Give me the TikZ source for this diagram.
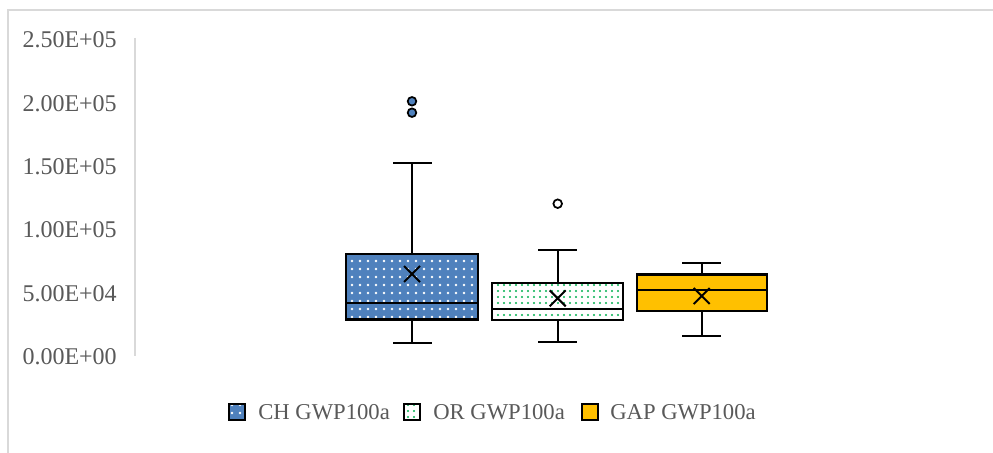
\documentclass[tikz,border=0pt]{standalone}
\usepackage{fontspec}
\setmainfont{Liberation Serif}
\usetikzlibrary{patterns.meta}

\definecolor{chblue}{RGB}{79,129,189}
\definecolor{gapgold}{RGB}{255,192,0}
\definecolor{orgreen}{RGB}{0,176,80}
\definecolor{framegray}{RGB}{217,217,217}
\definecolor{labgray}{RGB}{89,89,89}

\begin{document}
\begin{tikzpicture}[x=0.75pt, y=-0.75pt,
        boxline/.style={draw=black, line width=1.8pt},
        whisk/.style={draw=black, line width=1.4pt},
        meanx/.style={draw=black, line width=1.5pt},
        chfill/.style={preaction={fill=chblue}, pattern={Dots[distance=6pt, radius=0.95pt]}, pattern color=white},
        orfill/.style={preaction={fill=white}, pattern={Dots[distance=4.5pt, radius=0.85pt]}, pattern color=orgreen},
        gapfill/.style={fill=gapgold},
        ticklab/.style={anchor=east, text=labgray, font=\fontsize{18}{21}\selectfont, inner sep=0pt},
        leglab/.style={anchor=west, text=labgray, font=\fontsize{17}{20}\selectfont, inner sep=0pt}]
        \useasboundingbox (0,0) rectangle (993,453);
        \fill[white] (0,0) rectangle (993,453);
        \draw[framegray, line width=0.9pt] (8,453) -- (8,10) -- (993,10);

        % axis
        \draw[framegray, line width=1pt] (135,38) -- (135,356);
        \node[ticklab] (t0) at (117,356.7) {0.00E+00};
        \node[ticklab] (t1) at (117,293.3) {5.00E+04};
        \node[ticklab] (t2) at (117,230) {1.00E+05};
        \node[ticklab] (t3) at (117,166.7) {1.50E+05};
        \node[ticklab] (t4) at (117,103.3) {2.00E+05};
        \node[ticklab] (t5) at (117,40) {2.50E+05};

        % CH GWP100a
        \draw[whisk] (412,253.7) -- (412,163.3);
        \draw[whisk] (393,163.3) -- (432,163.3);
        \draw[whisk] (412,319.3) -- (412,343);
        \draw[whisk] (393,343) -- (432,343);
        \path[chfill] (346,253.7) rectangle (478,319.3);
        \draw[boxline] (346,253.7) rectangle (478,319.3);
        \draw[boxline] (346,303) -- (478,303);
        \draw[meanx] (412,274) +(-8,-8) -- +(8,8) +(-8,8) -- +(8,-8);
        \filldraw[fill=chblue, draw=black, line width=1.3pt] (412,101.3) circle (4.3);
        \filldraw[fill=chblue, draw=black, line width=1.3pt] (412,112.7) circle (4.3);

        % OR GWP100a
        \draw[whisk] (557.7,283) -- (557.7,249.7);
        \draw[whisk] (538,249.7) -- (577,249.7);
        \draw[whisk] (557.7,319.7) -- (557.7,342.3);
        \draw[whisk] (538,342.3) -- (577,342.3);
        \path[orfill] (492,283) rectangle (623,319.7);
        \draw[boxline] (492,283) rectangle (623,319.7);
        \draw[boxline] (492,308.7) -- (623,308.7);
        \draw[meanx] (557.7,298.3) +(-8,-8) -- +(8,8) +(-8,8) -- +(8,-8);
        \filldraw[fill=white, draw=black, line width=1.3pt] (557.7,203.7) circle (4.3);

        % GAP GWP100a
        \draw[whisk] (701.7,274.3) -- (701.7,262.7);
        \draw[whisk] (682,262.7) -- (721,262.7);
        \draw[whisk] (701.7,310.7) -- (701.7,336);
        \draw[whisk] (682,336) -- (721,336);
        \draw[boxline, gapfill] (636.7,274.3) rectangle (766.7,310.7);
        \draw[boxline] (636.7,290) -- (766.7,290);
        \draw[meanx] (701.7,296) +(-8,-8) -- +(8,8) +(-8,8) -- +(8,-8);

        % legend
        \path[chfill] (229,404) rectangle (245,420);
        \draw[boxline] (229,404) rectangle (245,420);
        \node[leglab] (lch) at (258,412) {CH GWP100a};
        \path[orfill] (404,404) rectangle (420,420);
        \draw[boxline] (404,404) rectangle (420,420);
        \node[leglab] (lor) at (433,412) {OR GWP100a};
        \draw[boxline, gapfill] (582,404) rectangle (598,420);
        \node[leglab] (lgap) at (610,412) {GAP GWP100a};
      \end{tikzpicture}
\end{document}
